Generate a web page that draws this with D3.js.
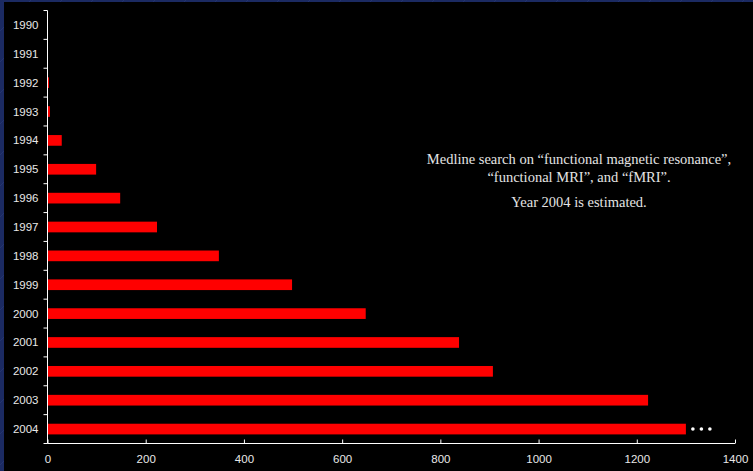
<!DOCTYPE html>
<html>
<head>
<meta charset="utf-8">
<script src="https://cdn.jsdelivr.net/npm/d3@7"></script>
<style>
  html, body { margin: 0; padding: 0; background: #1b2a62; }
  svg { display: block; }
</style>
</head>
<body>
<svg id="chart" width="753" height="471"></svg>
<script>
// fMRI publications per year (Medline count)
const years = ["1990","1991","1992","1993","1994","1995","1996","1997","1998","1999","2000","2001","2002","2003","2004"];
const counts = [0, 0, 3, 5, 29, 99, 148, 223, 349, 498, 648, 838, 907, 1223, 1300];
const xTicks = [0, 200, 400, 600, 800, 1000, 1200, 1400];
const noteLines = [
  "Medline search on \u201cfunctional magnetic resonance\u201d,",
  "\u201cfunctional MRI\u201d, and \u201cfMRI\u201d."
];
const noteEstimate = "Year 2004 is estimated.";

(function draw() {
  const svg = d3.select("#chart");
  const W = 753, H = 471;
  const sans = "'Liberation Sans', Arial, sans-serif";
  const serif = "'Liberation Serif', 'Times New Roman', serif";

  // blue slide backdrop with faint diagonal texture
  const defs = svg.append("defs");
  const pat = defs.append("pattern")
    .attr("id", "tex").attr("width", 31).attr("height", 31)
    .attr("patternUnits", "userSpaceOnUse");
  pat.append("rect").attr("width", 31).attr("height", 31).attr("fill", "#1b2a62");
  pat.append("line").attr("x1", 0).attr("y1", 31).attr("x2", 31).attr("y2", 0)
    .attr("stroke", "#2a3a78").attr("stroke-width", 0.6);
  svg.append("rect").attr("width", W).attr("height", H).attr("fill", "url(#tex)");

  // black chart panel
  svg.append("rect").attr("x", 4).attr("y", 2).attr("width", W - 4).attr("height", H - 2).attr("fill", "#000");

  const mLeft = 47.5, mRight = 735, mTop = 10.5, mBottom = 443.5;

  const x = d3.scaleLinear().domain([0, 1400]).range([mLeft, mRight]);
  const y = d3.scaleBand().domain(years).range([mTop, mBottom]).paddingInner(0.63).paddingOuter(0.315);

  // bars
  svg.append("g").selectAll("rect")
    .data(years.map((yr, i) => ({ yr, v: counts[i] })))
    .join("rect")
    .attr("x", x(0))
    .attr("y", d => y(d.yr))
    .attr("width", d => x(d.v) - x(0))
    .attr("height", y.bandwidth())
    .attr("fill", "#ff0000");

  // ellipsis after the estimated 2004 bar
  const last = years[years.length - 1];
  const lastV = counts[counts.length - 1];
  svg.append("g").selectAll("circle")
    .data([0, 1, 2])
    .join("circle")
    .attr("cx", k => x(lastV) + 7 + k * 8.5)
    .attr("cy", y(last) + y.bandwidth() / 2)
    .attr("r", 1.8)
    .attr("fill", "#fff");

  // category axis: ticks sit on band boundaries
  const yAxisG = svg.append("g").attr("transform", `translate(${mLeft},0)`);
  yAxisG.append("line")
    .attr("x1", 0).attr("x2", 0).attr("y1", mTop).attr("y2", mBottom)
    .attr("stroke", "#fff").attr("stroke-width", 1);
  const step = y.step();
  const bounds = d3.range(years.length + 1).map(i => mTop + i * step);
  yAxisG.selectAll("line.tk").data(bounds).join("line").attr("class", "tk")
    .attr("x1", -4).attr("x2", 0).attr("y1", d => d).attr("y2", d => d)
    .attr("stroke", "#fff").attr("stroke-width", 1);
  yAxisG.selectAll("text").data(years).join("text")
    .attr("x", -9)
    .attr("y", d => y(d) + y.bandwidth() / 2)
    .attr("dy", "0.35em")
    .attr("text-anchor", "end")
    .attr("fill", "#e8e8e8")
    .style("font-family", sans)
    .style("font-size", "11.5px")
    .text(d => d);

  // value axis
  const xAxis = d3.axisBottom(x).tickValues(xTicks).tickFormat(d3.format("d"))
    .tickSize(4).tickSizeOuter(0).tickPadding(7);
  const xAxisG = svg.append("g").attr("transform", `translate(0,${mBottom})`).call(xAxis);
  xAxisG.select(".domain").attr("stroke", "#fff").attr("d", `M${mLeft},0H${mRight}`);
  xAxisG.selectAll(".tick line").attr("stroke", "#fff").attr("y1", -4).attr("y2", 0);
  xAxisG.selectAll("text")
    .attr("fill", "#e8e8e8")
    .style("font-family", sans)
    .style("font-size", "11.5px");

  // annotation
  const note = svg.append("g")
    .style("font-family", serif)
    .style("font-size", "14.5px")
    .attr("fill", "#e4e4e4")
    .attr("text-anchor", "middle");
  note.selectAll("text.l").data(noteLines).join("text").attr("class", "l")
    .attr("x", 579)
    .attr("y", (d, i) => 164 + i * 17.5)
    .text(d => d);
  note.append("text").attr("x", 579).attr("y", 206.5).text(noteEstimate);
})();
</script>
</body>
</html>
